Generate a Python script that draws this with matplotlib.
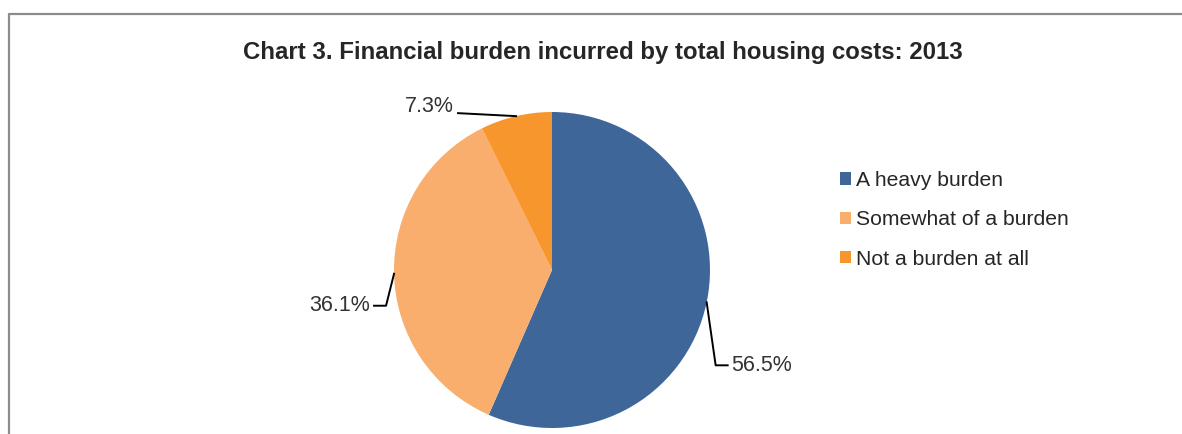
import numpy as np
import matplotlib.pyplot as plt
from matplotlib.patches import Patch

plt.rcParams['font.family'] = ['Liberation Sans', 'DejaVu Sans']

categories = ['A heavy burden', 'Somewhat of a burden', 'Not a burden at all']
shares = [56.5, 36.1, 7.3]
colors = ['#3e6699', '#f9ae6e', '#f7962c']
title = 'Chart 3. Financial burden incurred by total housing costs: 2013'

W, H = 1182, 434
fig = plt.figure(figsize=(W / 100, H / 100), dpi=100)
ax = fig.add_axes([0, 0, 1, 1])
ax.set_xlim(0, W)
ax.set_ylim(0, H)
ax.set_aspect('equal')
ax.axis('off')

# frame (left + top only, bottom/right are cropped)
ax.plot([9, 9, W], [0, H - 14, H - 14], color='#8c8c8c', lw=1.6, solid_capstyle='butt')

ax.text(603, H - 52, title, ha='center', va='center', fontsize=17.3,
        fontweight='bold', color='#262626')

cx, cy, r = 552, H - 270, 158
wedges, _ = ax.pie(shares, colors=colors, startangle=90, counterclock=False,
                   center=(cx, cy), radius=r, wedgeprops=dict(linewidth=0))
ax.set_xlim(0, W)
ax.set_ylim(0, H)

# leader layout: (elbow offset), horizontal tail, text side
layout = [((9, -63), 12, 'left'),
          ((-8, -32), -12, 'right'),
          ((-58, 3), 0, 'right')]
for w, val, (off, tail, side) in zip(wedges, shares, layout):
    th = np.deg2rad((w.theta1 + w.theta2) / 2)
    ax_, ay_ = cx + r * np.cos(th), cy + r * np.sin(th)
    ex, ey = ax_ + off[0], ay_ + off[1]
    tx = ex + tail
    ax.plot([ax_, ex, tx], [ay_, ey, ey], color='black', lw=1.4)
    gap = 4 if side == 'left' else -4
    ty = ey if tail != 0 else ey + 7
    ax.text(tx + gap, ty, f'{val:.1f}%', ha=side, va='center',
            fontsize=15.5, color='#333333')

handles = [Patch(facecolor=c, edgecolor='none') for c in colors]
ax.legend(handles, categories, loc='upper left', bbox_to_anchor=(840 / W, 1 - 171 / H),
          frameon=False, fontsize=15.2, handlelength=0.5, handleheight=0.5,
          handletextpad=0.25, labelspacing=0.97, labelcolor='#262626',
          borderpad=0, borderaxespad=0)

fig.savefig('out.png', dpi=100)
